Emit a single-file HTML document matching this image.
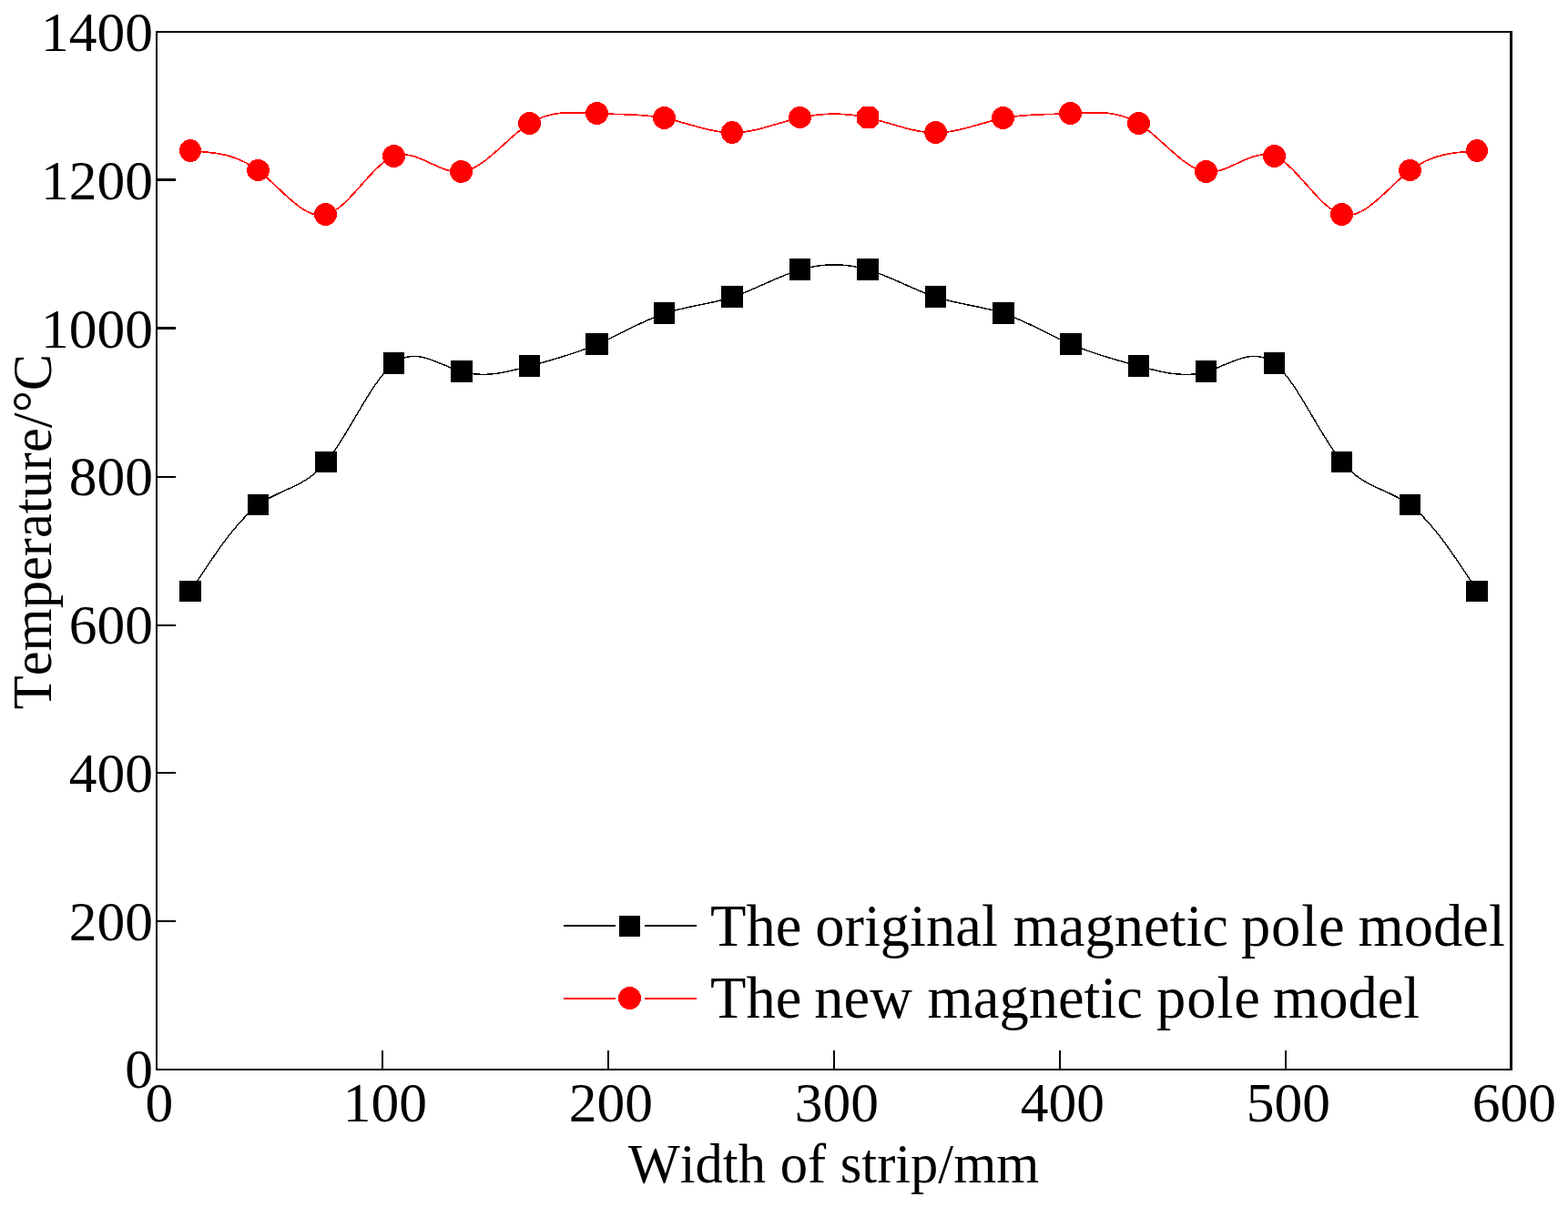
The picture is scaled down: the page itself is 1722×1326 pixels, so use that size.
<!DOCTYPE html>
<html lang="en">
<head>
<meta charset="utf-8">
<title>Temperature distribution across strip width</title>
<style>
html,body{margin:0;padding:0;background:#fff;}
body{width:1722px;height:1326px;overflow:hidden;}
svg{display:block;}
text{font-family:"Liberation Serif","DejaVu Serif",serif;fill:#000;font-kerning:none;font-variant-ligatures:none;}
.tick{font-size:61.5px;}
.title{font-size:60.5px;}
.leg{font-size:64.5px;}
</style>
</head>
<body>
<svg width="1722" height="1326" viewBox="0 0 1722 1326">
<rect x="0" y="0" width="1722" height="1326" fill="#ffffff"/>
<g id="frame" fill="#000" shape-rendering="crispEdges">
<rect x="171" y="34" width="1490" height="2"/>
<rect x="171" y="1174" width="1490" height="2"/>
<rect x="171" y="34" width="2" height="1142"/>
<rect x="1658" y="34" width="3" height="1142"/>
<rect x="173" y="1011" width="20" height="2"/>
<rect x="173" y="848" width="20" height="2"/>
<rect x="173" y="686" width="20" height="2"/>
<rect x="173" y="523" width="20" height="2"/>
<rect x="173" y="359" width="20" height="3"/>
<rect x="173" y="196" width="20" height="3"/>
<rect x="419" y="1154" width="2" height="20"/>
<rect x="667" y="1154" width="2" height="20"/>
<rect x="915" y="1154" width="2" height="20"/>
<rect x="1163" y="1154" width="2" height="20"/>
<rect x="1411" y="1154" width="2" height="20"/>
</g>
<g id="yticks" class="tick" text-anchor="end" transform="scale(1 1.008)">
<text x="168.0" y="1185.91">0</text>
<text x="168.0" y="1024.70">200</text>
<text x="168.0" y="863.19">400</text>
<text x="168.0" y="701.59">600</text>
<text x="168.0" y="540.08">800</text>
<text x="168.0" y="378.67">1000</text>
<text x="168.0" y="217.56">1200</text>
<text x="168.0" y="55.16">1400</text>
</g>
<g id="xticks" class="tick" text-anchor="middle" transform="scale(1 1.008)">
<text x="174.9" y="1222.22">0</text>
<text x="422.9" y="1222.22">100</text>
<text x="670.9" y="1222.22">200</text>
<text x="918.9" y="1222.22">300</text>
<text x="1166.9" y="1222.22">400</text>
<text x="1414.9" y="1222.22">500</text>
<text x="1662.9" y="1222.22">600</text>
</g>
<text class="title" y="1299.4"><tspan x="689.7">Width </tspan><tspan x="856.8">of </tspan><tspan x="922.8">strip/mm</tspan></text>
<text class="title" transform="translate(56.3 779.2) rotate(-90)">Temperature/°C</text>
<g id="series-original">
<path d="M209.20 649.80 C234.00 611.60 258.80 573.40 283.60 554.80 C308.40 536.20 333.20 537.19 358.00 507.80 C382.80 478.41 407.60 418.64 432.40 399.30 C457.20 379.96 482.00 401.06 506.80 408.30 C531.60 415.54 556.40 408.92 581.20 402.30 C606.00 395.68 630.80 389.08 655.60 378.30 C680.40 367.52 705.20 352.58 730.00 344.30 C754.80 336.02 779.60 334.41 804.40 326.30 C829.20 318.19 854.00 303.60 878.80 296.30 C903.60 289.00 928.40 289.00 953.20 296.30 C978.00 303.60 1002.80 318.19 1027.60 326.30 C1052.40 334.41 1077.20 336.02 1102.00 344.30 C1126.80 352.58 1151.60 367.52 1176.40 378.30 C1201.20 389.08 1226.00 395.68 1250.80 402.30 C1275.60 408.92 1300.40 415.54 1325.20 408.30 C1350.00 401.06 1374.80 379.96 1399.60 399.30 C1424.40 418.64 1449.20 478.41 1474.00 507.80 C1498.80 537.19 1523.60 536.20 1548.40 554.80 C1573.20 573.40 1598.00 611.60 1622.80 649.80" fill="none" stroke="#000" stroke-width="1.45" shape-rendering="crispEdges"/>
<g fill="#000" shape-rendering="crispEdges">
<rect x="197" y="638" width="24" height="23"/>
<rect x="272" y="543" width="23" height="23"/>
<rect x="346" y="496" width="24" height="23"/>
<rect x="421" y="387" width="23" height="24"/>
<rect x="495" y="396" width="24" height="24"/>
<rect x="570" y="390" width="23" height="24"/>
<rect x="643" y="366" width="25" height="24"/>
<rect x="718" y="332" width="23" height="24"/>
<rect x="792" y="314" width="24" height="24"/>
<rect x="867" y="284" width="23" height="24"/>
<rect x="941" y="284" width="24" height="24"/>
<rect x="1016" y="314" width="23" height="24"/>
<rect x="1090" y="332" width="24" height="24"/>
<rect x="1164" y="366" width="24" height="24"/>
<rect x="1239" y="390" width="23" height="24"/>
<rect x="1313" y="396" width="23" height="24"/>
<rect x="1388" y="387" width="23" height="24"/>
<rect x="1462" y="496" width="23" height="23"/>
<rect x="1537" y="543" width="23" height="23"/>
<rect x="1610" y="638" width="24" height="23"/>
</g>
</g>
<g id="series-new">
<path d="M209.20 165.80 C234.00 167.21 258.80 168.61 283.60 187.30 C308.40 205.99 333.20 241.96 358.00 235.80 C382.80 229.64 407.60 181.33 432.40 171.80 C457.20 162.27 482.00 191.51 506.80 188.80 C531.60 186.09 556.40 151.41 581.20 135.80 C606.00 120.19 630.80 123.64 655.60 124.80 C680.40 125.96 705.20 124.84 730.00 129.80 C754.80 134.76 779.60 145.79 804.40 145.80 C829.20 145.81 854.00 134.80 878.80 129.30 C903.60 123.80 928.40 123.80 953.20 129.30 C978.00 134.80 1002.80 145.81 1027.60 145.80 C1052.40 145.79 1077.20 134.76 1102.00 129.80 C1126.80 124.84 1151.60 125.96 1176.40 124.80 C1201.20 123.64 1226.00 120.19 1250.80 135.80 C1275.60 151.41 1300.40 186.09 1325.20 188.80 C1350.00 191.51 1374.80 162.27 1399.60 171.80 C1424.40 181.33 1449.20 229.64 1474.00 235.80 C1498.80 241.96 1523.60 205.99 1548.40 187.30 C1573.20 168.61 1598.00 167.21 1622.80 165.80" fill="none" stroke="#f00" stroke-width="1.7" shape-rendering="crispEdges"/>
<g fill="#f00" shape-rendering="crispEdges">
<ellipse cx="209.0" cy="165.5" rx="12.00" ry="12.50"/>
<ellipse cx="283.5" cy="187.0" rx="12.50" ry="12.00"/>
<ellipse cx="357.5" cy="235.5" rx="12.50" ry="12.50"/>
<ellipse cx="432.5" cy="171.5" rx="12.50" ry="12.50"/>
<ellipse cx="506.5" cy="188.5" rx="12.50" ry="12.50"/>
<ellipse cx="581.5" cy="135.5" rx="12.50" ry="12.50"/>
<ellipse cx="655.5" cy="124.5" rx="12.50" ry="12.50"/>
<ellipse cx="729.5" cy="129.5" rx="12.50" ry="12.50"/>
<ellipse cx="804.0" cy="145.5" rx="12.00" ry="12.50"/>
<ellipse cx="878.5" cy="129.0" rx="12.50" ry="12.00"/>
<polygon points="947,117 959,117 965,123 965,135 959,141 947,141 941,135 941,123"/>
<ellipse cx="1027.5" cy="145.5" rx="12.50" ry="12.50"/>
<ellipse cx="1101.5" cy="129.5" rx="12.50" ry="12.50"/>
<ellipse cx="1175.5" cy="124.5" rx="12.50" ry="12.50"/>
<ellipse cx="1250.5" cy="135.5" rx="12.50" ry="12.50"/>
<ellipse cx="1324.5" cy="188.5" rx="12.50" ry="12.50"/>
<ellipse cx="1399.5" cy="171.5" rx="12.50" ry="12.50"/>
<ellipse cx="1473.5" cy="235.5" rx="12.50" ry="12.50"/>
<ellipse cx="1548.5" cy="187.0" rx="12.50" ry="12.00"/>
<ellipse cx="1622.0" cy="165.5" rx="12.00" ry="12.50"/>
</g>
</g>
<g id="legend">
<g shape-rendering="crispEdges">
<rect x="619" y="1016" width="57" height="2" fill="#000"/>
<rect x="708" y="1016" width="57" height="2" fill="#000"/>
<rect x="680" y="1006" width="23" height="23" fill="#000"/>
<rect x="619" y="1096" width="57" height="2" fill="#f00"/>
<rect x="708" y="1096" width="57" height="2" fill="#f00"/>
<ellipse cx="691.5" cy="1096.5" rx="12.50" ry="12.50" fill="#f00"/>
</g>
<text class="leg" y="1039"><tspan x="780.1">The </tspan><tspan x="895.2">original </tspan><tspan x="1112.6">magnetic </tspan><tspan x="1362.9" style="letter-spacing:0.9px">pole </tspan><tspan x="1491.6">model</tspan></text>
<text class="leg" y="1118"><tspan x="780.1">The </tspan><tspan x="894.3">new </tspan><tspan x="1018.6">magnetic </tspan><tspan x="1270.1" style="letter-spacing:0.9px">pole </tspan><tspan x="1398.0">model</tspan></text>
</g>
</svg>
</body>
</html>
